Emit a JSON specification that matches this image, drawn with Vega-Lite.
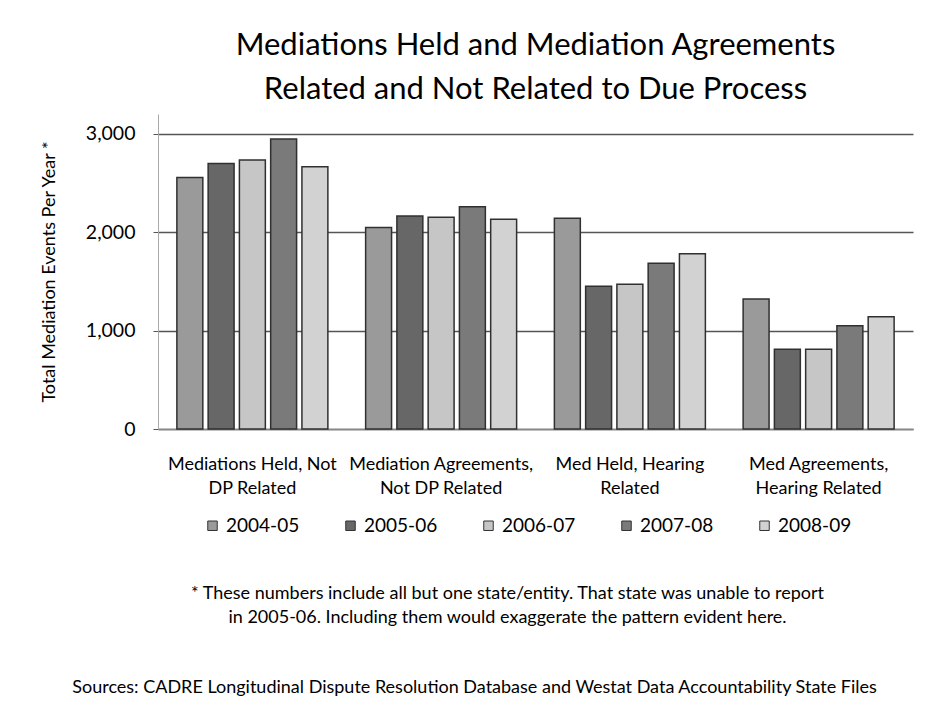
{
  "$schema": "https://vega.github.io/schema/vega-lite/v6.json",
  "background": "white",
  "padding": {"left": 40, "top": 30, "right": 10, "bottom": 5},
  "config": {
    "font": "Lato",
    "view": {"stroke": null},
    "title": {"font": "Lato", "fontWeight": "normal", "color": "black"}
  },
  "datasets": {
    "bars": [
      {"group": "Mediations Held, Not DP Related", "year": "2004-05", "value": 2556},
      {"group": "Mediations Held, Not DP Related", "year": "2005-06", "value": 2698},
      {"group": "Mediations Held, Not DP Related", "year": "2006-07", "value": 2732},
      {"group": "Mediations Held, Not DP Related", "year": "2007-08", "value": 2945},
      {"group": "Mediations Held, Not DP Related", "year": "2008-09", "value": 2665},
      {"group": "Mediation Agreements, Not DP Related", "year": "2004-05", "value": 2047},
      {"group": "Mediation Agreements, Not DP Related", "year": "2005-06", "value": 2165},
      {"group": "Mediation Agreements, Not DP Related", "year": "2006-07", "value": 2151},
      {"group": "Mediation Agreements, Not DP Related", "year": "2007-08", "value": 2259},
      {"group": "Mediation Agreements, Not DP Related", "year": "2008-09", "value": 2131},
      {"group": "Med Held, Hearing Related", "year": "2004-05", "value": 2140},
      {"group": "Med Held, Hearing Related", "year": "2005-06", "value": 1450},
      {"group": "Med Held, Hearing Related", "year": "2006-07", "value": 1470},
      {"group": "Med Held, Hearing Related", "year": "2007-08", "value": 1685},
      {"group": "Med Held, Hearing Related", "year": "2008-09", "value": 1780},
      {"group": "Med Agreements, Hearing Related", "year": "2004-05", "value": 1320},
      {"group": "Med Agreements, Hearing Related", "year": "2005-06", "value": 810},
      {"group": "Med Agreements, Hearing Related", "year": "2006-07", "value": 810},
      {"group": "Med Agreements, Hearing Related", "year": "2007-08", "value": 1050},
      {"group": "Med Agreements, Hearing Related", "year": "2008-09", "value": 1140}
    ],
    "notes1": [
      {"text": "* These numbers include all but one state/entity. That state was unable to report"}
    ],
    "notes2": [
      {"text": "in 2005-06. Including them would exaggerate  the pattern evident here."}
    ],
    "notes3": [
      {"text": "Sources: CADRE Longitudinal Dispute Resolution Database and  Westat Data Accountability State Files"}
    ]
  },
  "vconcat": [
    {
      "title": {
        "text": ["Mediations Held and Mediation Agreements", "Related and Not Related to Due Process"],
        "fontSize": 31,
        "lineHeight": 44,
        "anchor": "middle",
        "offset": 8,
        "dx": 0
      },
      "width": 755,
      "height": 315,
      "data": {"name": "bars"},
      "mark": {"type": "bar", "stroke": "#303030", "strokeWidth": 1.5},
      "encoding": {
        "x": {
          "field": "group",
          "type": "nominal",
          "sort": null,
          "scale": {"paddingInner": 0.2, "paddingOuter": 0.1},
          "axis": {
            "title": null,
            "labelAngle": 0,
            "labelExpr": "datum.value == 'Mediations Held, Not DP Related' ? ['Mediations Held, Not', 'DP Related'] : datum.value == 'Mediation Agreements, Not DP Related' ? ['Mediation Agreements,', 'Not DP Related'] : datum.value == 'Med Held, Hearing Related' ? ['Med Held, Hearing', 'Related'] : ['Med Agreements,', 'Hearing Related']",
            "labelFontSize": 18,
            "labelLimit": 300,
            "labelColor": "black",
            "labelLineHeight": 24,
            "labelPadding": 26,
            "ticks": false,
            "domainColor": "#888888",
            "domainWidth": 1.5
          }
        },
        "xOffset": {
          "field": "year",
          "type": "nominal",
          "scale": {"paddingInner": 0.17, "paddingOuter": 0}
        },
        "y": {
          "field": "value",
          "type": "quantitative",
          "scale": {"domain": [0, 3200], "nice": false},
          "axis": {
            "values": [0, 1000, 2000, 3000],
            "format": ",d",
            "title": "Total Mediation Events Per Year *",
            "titleFontSize": 18,
            "titleFontWeight": "normal",
            "titleColor": "black",
            "titlePadding": 27,
            "labelFontSize": 19.5,
            "labelColor": "black",
            "labelPadding": 18,
            "tickSize": 5,
            "tickColor": "#555555",
            "domainColor": "#aaaaaa",
            "gridColor": "#555555",
            "gridWidth": 1.5,
            "gridOpacity": 1
          }
        },
        "color": {
          "field": "year",
          "type": "nominal",
          "scale": {
            "domain": ["2004-05", "2005-06", "2006-07", "2007-08", "2008-09"],
            "range": ["#9a9a9a", "#676767", "#c6c6c6", "#7a7a7a", "#d2d2d2"]
          },
          "legend": {
            "title": null,
            "orient": "none",
            "legendX": 45,
            "legendY": 402,
            "direction": "horizontal",
            "labelFontSize": 19,
            "labelColor": "black",
            "symbolType": "square",
            "symbolSize": 90,
            "symbolStrokeColor": "#333333",
            "symbolStrokeWidth": 1,
            "symbolOpacity": 1,
            "labelOffset": 4,
            "columnPadding": 41
          }
        }
      }
    },
    {
      "width": 755,
      "height": 110,
      "layer": [
        {
          "data": {"name": "notes1"},
          "mark": {"type": "text", "fontSize": 18, "color": "black", "dx": -28, "dy": 22},
          "encoding": {"text": {"field": "text"}}
        },
        {
          "data": {"name": "notes2"},
          "mark": {"type": "text", "fontSize": 18, "color": "black", "dx": -28, "dy": 46},
          "encoding": {"text": {"field": "text"}}
        },
        {
          "data": {"name": "notes3"},
          "mark": {"type": "text", "fontSize": 18, "color": "black", "dx": -61, "dy": 116},
          "encoding": {"text": {"field": "text"}}
        }
      ]
    }
  ]
}
